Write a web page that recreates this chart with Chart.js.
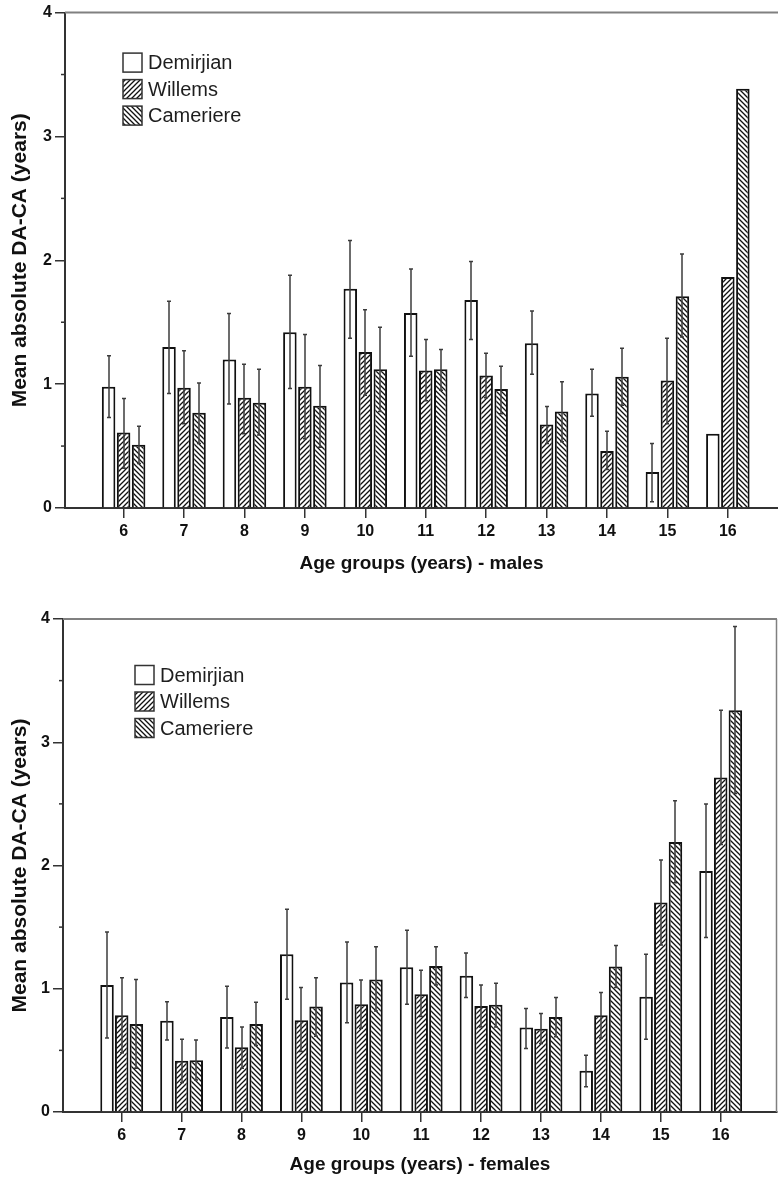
<!DOCTYPE html>
<html>
<head>
<meta charset="utf-8">
<script src="https://cdn.jsdelivr.net/npm/chart.js@4.4.1/dist/chart.umd.min.js"></script>
<style>
body { margin: 0; background: #fff; }
canvas { display: block; }
</style>
</head>
<body>
<canvas id="chartMales" width="778" height="595"></canvas>
<canvas id="chartFemales" width="778" height="589"></canvas>
<script>
var ages = [6, 7, 8, 9, 10, 11, 12, 13, 14, 15, 16];
var methods = ["Demirjian", "Willems", "Cameriere"];
var yTicks = [0, 1, 2, 3, 4];
var yMinorTicks = [0.5, 1.5, 2.5, 3.5];

// males
var maleDem = [0.98, 1.30, 1.20, 1.42, 1.77, 1.575, 1.68, 1.33, 0.925, 0.29, 0.60];
var maleDemLo = [0.73, 0.925, 0.84, 0.965, 1.37, 1.225, 1.36, 1.08, 0.74, 0.05, null];
var maleDemHi = [1.23, 1.67, 1.57, 1.88, 2.16, 1.93, 1.99, 1.59, 1.12, 0.52, null];
var maleWil = [0.61, 0.97, 0.89, 0.98, 1.26, 1.11, 1.07, 0.675, 0.46, 1.03, 1.865];
var maleWilLo = [0.32, 0.68, 0.60, 0.56, 0.91, 0.865, 0.89, 0.52, 0.31, 0.68, null];
var maleWilHi = [0.885, 1.27, 1.16, 1.40, 1.60, 1.36, 1.25, 0.82, 0.62, 1.37, null];
var maleCam = [0.51, 0.77, 0.85, 0.825, 1.12, 1.12, 0.96, 0.78, 1.06, 1.71, 3.385];
var maleCamLo = [0.36, 0.52, 0.59, 0.49, 0.78, 0.95, 0.76, 0.535, 0.83, 1.38, null];
var maleCamHi = [0.66, 1.01, 1.12, 1.15, 1.46, 1.28, 1.145, 1.02, 1.29, 2.05, null];

// females
var femDem = [1.03, 0.74, 0.77, 1.28, 1.05, 1.175, 1.105, 0.685, 0.335, 0.935, 1.955];
var femDemLo = [0.60, 0.585, 0.52, 0.915, 0.725, 0.875, 0.93, 0.515, 0.205, 0.59, 1.415];
var femDemHi = [1.46, 0.895, 1.02, 1.645, 1.38, 1.475, 1.29, 0.84, 0.46, 1.28, 2.50];
var femWil = [0.785, 0.415, 0.525, 0.745, 0.875, 0.955, 0.86, 0.675, 0.785, 1.70, 2.715];
var femWilLo = [0.48, 0.24, 0.355, 0.49, 0.68, 0.775, 0.69, 0.555, 0.60, 1.355, 2.17];
var femWilHi = [1.09, 0.59, 0.69, 1.01, 1.07, 1.15, 1.03, 0.80, 0.97, 2.045, 3.26];
var femCam = [0.715, 0.42, 0.715, 0.855, 1.075, 1.185, 0.87, 0.77, 1.18, 2.19, 3.26];
var femCamLo = [0.355, 0.26, 0.54, 0.615, 0.82, 1.03, 0.69, 0.61, 1.01, 1.86, 2.585];
var femCamHi = [1.075, 0.585, 0.89, 1.09, 1.34, 1.34, 1.045, 0.93, 1.35, 2.525, 3.94];

var FONT = '"Liberation Sans", Arial, Helvetica, sans-serif';

function makeHatch(ctx, dir) {
    var s = 5;
    var c = document.createElement("canvas");
    c.width = s; c.height = s;
    var g = c.getContext("2d");
    g.fillStyle = "#fff";
    g.fillRect(0, 0, s, s);
    g.strokeStyle = "#111";
    g.lineWidth = 1.3;
    g.beginPath();
    if (dir == "/") {
        g.moveTo(-1, s + 1); g.lineTo(s + 1, -1);
        g.moveTo(-1, 1); g.lineTo(1, -1);
        g.moveTo(s - 1, s + 1); g.lineTo(s + 1, s - 1);
    } else {
        g.moveTo(-1, -1); g.lineTo(s + 1, s + 1);
        g.moveTo(s - 1, -1); g.lineTo(s + 1, 1);
        g.moveTo(-1, s - 1); g.lineTo(1, s + 1);
    }
    g.stroke();
    return ctx.createPattern(c, "repeat");
}

function toPoints(vals) {
    return ages.map(function (a, i) { return { x: a, y: vals[i] }; });
}

var errorBars = {
    id: "errorBars",
    afterDatasetsDraw: function (chart) {
        var ctx = chart.ctx, ys = chart.scales.y;
        ctx.save();
        ctx.strokeStyle = "#3c3c3c";
        ctx.lineWidth = 1.5;
        chart.data.datasets.forEach(function (ds, i) {
            chart.getDatasetMeta(i).data.forEach(function (bar, j) {
                if (ds.lo[j] == null) return;
                var x = Math.round(bar.x);
                var yl = ys.getPixelForValue(ds.lo[j]);
                var yh = ys.getPixelForValue(ds.hi[j]);
                ctx.beginPath();
                ctx.moveTo(x, yl); ctx.lineTo(x, yh);
                ctx.moveTo(x - 2, yl); ctx.lineTo(x + 2, yl);
                ctx.moveTo(x - 2, yh); ctx.lineTo(x + 2, yh);
                ctx.stroke();
            });
        });
        ctx.restore();
    }
};

var frame = {
    id: "frame",
    afterDraw: function (chart, args, opts) {
        var ctx = chart.ctx, a = chart.chartArea, ys = chart.scales.y;
        ctx.save();
        ctx.strokeStyle = "#333";
        ctx.lineWidth = 1.5;
        yMinorTicks.forEach(function (v) {
            var y = ys.getPixelForValue(v);
            ctx.beginPath(); ctx.moveTo(a.left - 4, y); ctx.lineTo(a.left, y); ctx.stroke();
        });
        ctx.strokeStyle = "#808080";
        ctx.lineWidth = 2;
        ctx.beginPath(); ctx.moveTo(a.left, a.top); ctx.lineTo(a.right, a.top); ctx.stroke();
        if (opts.rightBorder) {
            ctx.lineWidth = 1.5;
            ctx.beginPath(); ctx.moveTo(a.right - 0.5, a.top); ctx.lineTo(a.right - 0.5, a.bottom); ctx.stroke();
        }
        ctx.restore();
    }
};

var hatchLegend = {
    id: "hatchLegend",
    afterDraw: function (chart, args, opts) {
        var ctx = chart.ctx, a = chart.chartArea;
        ctx.save();
        ctx.font = "20px " + FONT;
        ctx.textBaseline = "middle";
        chart.data.datasets.forEach(function (ds, i) {
            var bx = a.left + opts.x;
            var cy = a.top + opts.y + i * opts.gap;
            ctx.fillStyle = ds.backgroundColor;
            ctx.fillRect(bx, cy - 9.5, 19, 19);
            ctx.strokeStyle = "#333";
            ctx.lineWidth = 1.5;
            ctx.strokeRect(bx, cy - 9.5, 19, 19);
            ctx.fillStyle = "#1e1e1e";
            ctx.fillText(ds.label, bx + 25, cy + 1);
        });
        ctx.restore();
    }
};

function CriarGrafico(id, dem, demLo, demHi, wil, wilLo, wilHi, cam, camLo, camHi, opt) {
    var canvas = document.getElementById(id);
    var ctx = canvas.getContext("2d");
    var barStyle = { borderColor: "#111", borderWidth: 2, categoryPercentage: opt.catPct, barPercentage: opt.barPct };
    var sets = [
        { label: methods[0], data: toPoints(dem), lo: demLo, hi: demHi, backgroundColor: "#fff" },
        { label: methods[1], data: toPoints(wil), lo: wilLo, hi: wilHi, backgroundColor: makeHatch(ctx, "/") },
        { label: methods[2], data: toPoints(cam), lo: camLo, hi: camHi, backgroundColor: makeHatch(ctx, "\\") }
    ];
    sets.forEach(function (s) { Object.assign(s, barStyle); });

    return new Chart(canvas, {
        type: "bar",
        data: { datasets: sets },
        options: {
            responsive: false,
            animation: false,
            devicePixelRatio: 1,
            layout: { padding: { top: opt.top, left: 0, right: opt.right, bottom: 0 } },
            plugins: {
                legend: { display: false },
                tooltip: { enabled: false },
                frame: { rightBorder: opt.rightBorder },
                hatchLegend: { x: opt.legX, y: opt.legY, gap: 26.5 }
            },
            scales: {
                x: {
                    type: "linear",
                    min: opt.xMin,
                    max: opt.xMax,
                    offset: false,
                    afterBuildTicks: function (s) { s.ticks = ages.map(function (v) { return { value: v }; }); },
                    afterFit: function (s) { s.height = opt.xHeight; },
                    grid: { display: true, offset: false, drawOnChartArea: false, drawTicks: true, tickLength: 10, color: "#333", lineWidth: 1.5 },
                    border: { display: true, color: "#333", width: 2 },
                    ticks: { font: { family: FONT, size: 16, weight: "bold" }, color: "#111", padding: 4, autoSkip: false, maxRotation: 0 },
                    title: { display: true, text: opt.xTitle, font: { family: FONT, size: 19, weight: "bold" }, color: "#111", padding: { top: 0, bottom: opt.xTitlePad } }
                },
                y: {
                    min: 0,
                    max: 4,
                    afterBuildTicks: function (s) { s.ticks = yTicks.map(function (v) { return { value: v }; }); },
                    afterFit: function (s) { s.width = opt.yWidth; },
                    grid: { display: true, drawOnChartArea: false, drawTicks: true, tickLength: 10, color: "#333", lineWidth: 1.5 },
                    border: { display: true, color: "#333", width: 2 },
                    ticks: { font: { family: FONT, size: 16, weight: "bold" }, color: "#111", padding: 3 },
                    title: { display: true, text: "Mean absolute DA-CA (years)", font: { family: FONT, size: 21, weight: "bold" }, color: "#111", padding: { top: 8, bottom: 0 } }
                }
            }
        },
        plugins: [errorBars, frame, hatchLegend]
    });
}

CriarGrafico("chartMales", maleDem, maleDemLo, maleDemHi, maleWil, maleWilLo, maleWilHi, maleCam, maleCamLo, maleCamHi, {
    top: 12, right: 0, yWidth: 65, xHeight: 87, xMin: 5.03, xMax: 16.83,
    catPct: 0.745, barPct: 0.9, xTitle: "Age groups (years) - males", xTitlePad: 20,
    legX: 58, legY: 50, rightBorder: false
});

CriarGrafico("chartFemales", femDem, femDemLo, femDemHi, femWil, femWilLo, femWilHi, femCam, femCamLo, femCamHi, {
    top: 24, right: 1, yWidth: 63, xHeight: 72, xMin: 5.02, xMax: 16.94,
    catPct: 0.735, barPct: 0.92, xTitle: "Age groups (years) - females", xTitlePad: 8,
    legX: 72, legY: 56, rightBorder: true
});
</script>
</body>
</html>
